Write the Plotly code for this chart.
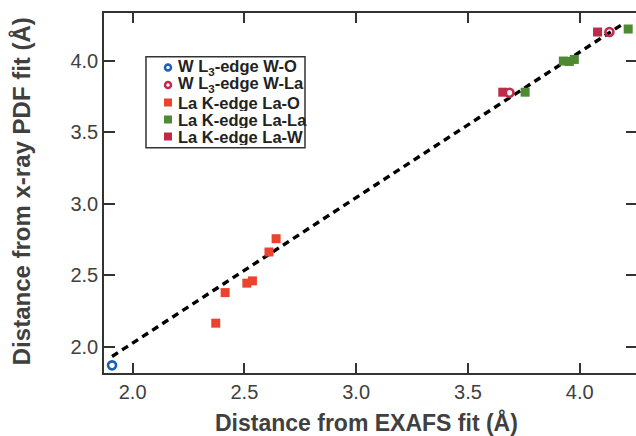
import plotly.graph_objects as go

# Bond distances: EXAFS fit (x) vs x-ray PDF fit (y), in Å
w_o_exafs = [1.908]
w_o_pdf = [1.870]

w_la_exafs = [3.686, 4.133]
w_la_pdf = [3.777, 4.202]

la_o_exafs = [2.372, 2.414, 2.511, 2.536, 2.610, 2.642]
la_o_pdf = [2.165, 2.379, 2.445, 2.461, 2.663, 2.756]

la_la_exafs = [3.756, 3.927, 3.954, 3.976, 4.217]
la_la_pdf = [3.781, 3.999, 3.996, 4.010, 4.223]

la_w_exafs = [3.656, 4.080]
la_w_pdf = [3.781, 4.202]

# Linear trend line endpoints
fit_x = [1.908, 4.200]
fit_y = [1.932, 4.265]

x_ticks = [2.0, 2.5, 3.0, 3.5, 4.0]
y_ticks = [2.0, 2.5, 3.0, 3.5, 4.0]
x_range = [1.872, 4.252]
y_range = [1.8165, 4.335]

series_names = [
    "W L<sub>3</sub>-edge W-O",
    "W L<sub>3</sub>-edge W-La",
    "La K-edge La-O",
    "La K-edge La-La",
    "La K-edge La-W",
]
series_colors = ["#1c5fb3", "#c42a4c", "#ec432f", "#4e8a32", "#bf2a4b"]
series_symbols = ["circle-open", "circle-open", "square", "square", "square"]

FONT = "Liberation Sans, Arial, sans-serif"
INK = "#333333"
LABEL = "#404040"

# plot-area geometry (px) used to place the compact legend
L, R, T, B = 104, 636, 13, 373


def px_x(p):
    return (p - L) / (R - L)


def px_y(p):
    return (B - p) / (B - T)


fig = go.Figure()

fig.add_trace(go.Scatter(
    x=fit_x, y=fit_y, mode="lines", showlegend=False, hoverinfo="skip",
    line=dict(color="black", width=3.4, dash="7px,5px"),
))

series = [
    (w_o_exafs, w_o_pdf),
    (w_la_exafs, w_la_pdf),
    (la_o_exafs, la_o_pdf),
    (la_la_exafs, la_la_pdf),
    (la_w_exafs, la_w_pdf),
]
for (xs, ys), name, col, sym in zip(series, series_names, series_colors, series_symbols):
    if sym == "circle-open":
        marker = dict(symbol=sym, size=8, color=col, line=dict(width=2.6, color=col))
    else:
        marker = dict(symbol=sym, size=9, color=col, line=dict(width=0))
    fig.add_trace(go.Scatter(x=xs, y=ys, mode="markers", name=name,
                             showlegend=False, marker=marker))

# compact legend: boxed key with markers on a hidden unit axis
row_px = [67.5, 85.0, 102.5, 119.5, 136.5]
key_x = px_x(168)
text_x = px_x(177)
key_y = [px_y(p) for p in row_px]

for name, col, sym, ky in zip(series_names, series_colors, series_symbols, key_y):
    if sym == "circle-open":
        marker = dict(symbol=sym, size=6, color=col, line=dict(width=2.5, color=col))
    else:
        marker = dict(symbol=sym, size=8, color=col, line=dict(width=0))
    fig.add_trace(go.Scatter(
        x=[key_x], y=[ky], xaxis="x3", yaxis="y3", mode="markers",
        showlegend=False, hoverinfo="skip", marker=marker,
    ))

# invisible trace so the right-hand tick axis is rendered
fig.add_trace(go.Scatter(
    x=[None], y=[None], yaxis="y2", showlegend=False, hoverinfo="skip",
))

annotations = [
    dict(text=f"<b>{name}</b>", xref="paper", yref="paper",
         x=text_x, y=ky, xanchor="left", yanchor="middle", showarrow=False,
         borderpad=0, height=17, valign="middle",
         font=dict(size=16.5, color="#222222", family=FONT))
    for name, ky in zip(series_names, key_y)
]
annotations += [
    dict(text="<b>Distance from EXAFS fit (Å)</b>", xref="paper", yref="paper",
         x=0.494, y=-0.138, xanchor="center", yanchor="middle",
         showarrow=False, font=dict(size=23, color=LABEL, family=FONT)),
    dict(text="<b>Distance from x-ray PDF fit (Å)</b>", xref="paper", yref="paper",
         x=-0.156, y=0.505, xanchor="center", yanchor="middle", textangle=-90,
         showarrow=False, font=dict(size=24, color=LABEL, family=FONT)),
]

fig.update_layout(
    width=636, height=436,
    margin=dict(l=L, r=636 - R, t=T, b=436 - B),
    paper_bgcolor="white", plot_bgcolor="white",
    font=dict(family=FONT, color=LABEL),
    showlegend=False,
    xaxis=dict(
        range=x_range, tickvals=x_ticks, ticktext=[f"{v:.1f}" for v in x_ticks],
        ticks="inside", ticklen=10, tickwidth=1.5, tickcolor=INK,
        showline=True, linewidth=1.5, linecolor=INK, mirror="ticks",
        showgrid=False, zeroline=False,
        tickfont=dict(size=20, color=LABEL, family=FONT),
    ),
    yaxis=dict(
        range=y_range, tickvals=y_ticks, ticktext=[f"{v:.1f}" for v in y_ticks],
        ticks="inside", ticklen=11, tickwidth=1.5, tickcolor=INK,
        showline=True, linewidth=1.5, linecolor=INK, mirror=False,
        showgrid=False, zeroline=False,
        tickfont=dict(size=20, color=LABEL, family=FONT),
    ),
    yaxis2=dict(
        overlaying="y", side="right", matches="y", range=y_range,
        tickvals=y_ticks, ticks="inside", ticklen=10, tickwidth=1.5,
        tickcolor=INK, showline=False, showticklabels=False,
        showgrid=False, zeroline=False,
    ),
    xaxis3=dict(overlaying="x", range=[0, 1], visible=False, fixedrange=True),
    yaxis3=dict(overlaying="y", range=[0, 1], visible=False, fixedrange=True),
    shapes=[
        dict(type="rect", xref="paper", yref="paper",
             x0=px_x(146), x1=px_x(305), y0=px_y(147.7), y1=px_y(56.7),
             line=dict(color=INK, width=1.5), fillcolor="white", layer="below"),
    ],
    annotations=annotations,
)

fig.write_html("out.html")
